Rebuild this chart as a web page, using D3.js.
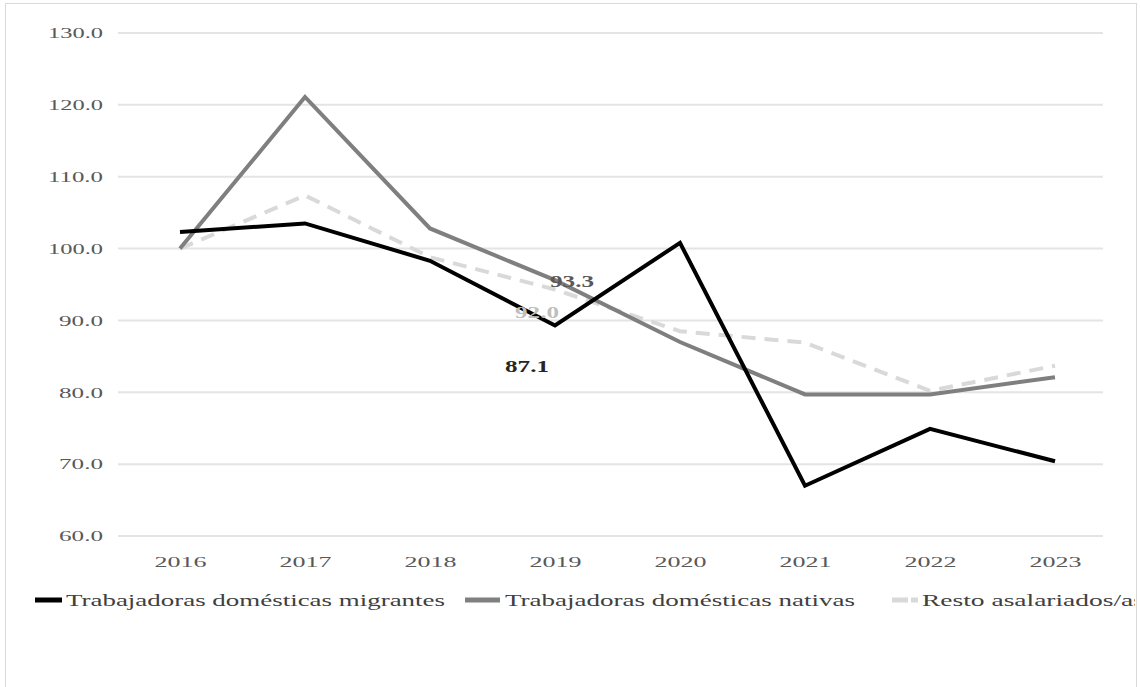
<!DOCTYPE html>
<html><head><meta charset="utf-8">
<script src="https://cdn.jsdelivr.net/npm/d3@7"></script>
<style>body{margin:0;background:#fff}svg{display:block}</style>
</head><body><svg id="c" width="1140" height="687"></svg>
<script>
const years = ["2016","2017","2018","2019","2020","2021","2022","2023"];
const migrantes = [102.3,103.5,98.3,89.3,100.8,67.0,74.9,70.4];
const nativas = [100,121.1,102.8,95.6,87.0,79.7,79.7,82.1];
const resto = [100,107.4,98.8,94.3,88.5,86.9,80.2,83.7];
const yTicks = [60,70,80,90,100,110,120,130];
const seriesNames = ["Trabajadoras domésticas migrantes","Trabajadoras domésticas nativas","Resto asalariados/as"];
const labelTexts = ["87.1","93.3","92.0"];

const svg = d3.select("#c");
const font = "'Liberation Serif','DejaVu Serif',serif";
svg.append("rect").attr("x",5.5).attr("y",3.5).attr("width",1131).attr("height",690)
  .attr("fill","#fff").attr("stroke","#d9d9d9");

const x = d3.scalePoint().domain(years).range([180,1055]);
const y = d3.scaleLinear().domain([60,130]).range([536,33]);
const gx0 = 118, gx1 = 1103;

// gridlines
svg.append("g").selectAll("line").data(yTicks).join("line")
  .attr("x1",gx0).attr("x2",gx1).attr("y1",d=>y(d)).attr("y2",d=>y(d))
  .attr("stroke","#e4e4e4").attr("stroke-width",2);

// y axis labels
const yAxis = d3.axisLeft(y).tickValues(yTicks).tickFormat(d3.format(".1f")).tickSize(0).tickPadding(0);
const ya = svg.append("g").attr("transform","translate(103,0)").call(yAxis);
ya.select(".domain").remove();
ya.selectAll("text").attr("font-family",font).attr("font-size",15).attr("fill","#595959")
  .attr("textLength",function(){return this.textContent.length*11;}).attr("lengthAdjust","spacingAndGlyphs");

// x axis labels
const xAxis = d3.axisBottom(x).tickSize(0).tickPadding(0);
const xa = svg.append("g").attr("transform","translate(0,556)").call(xAxis);
xa.select(".domain").remove();
xa.selectAll("text").attr("font-family",font).attr("font-size",15).attr("fill","#595959")
  .attr("textLength",52).attr("lengthAdjust","spacingAndGlyphs");

const styles = [
  {data:migrantes,color:"#000000",dash:null},
  {data:nativas,color:"#7f7f7f",dash:null},
  {data:resto,color:"#d9d9d9",dash:"14,9"}
];
const line = d3.line().x((d,i)=>x(years[i])).y(d=>y(d));
[2,1,0].forEach(k=>{
  const s = styles[k];
  svg.append("path").datum(s.data).attr("d",line).attr("fill","none")
    .attr("stroke",s.color).attr("stroke-width",4).attr("stroke-linejoin","miter")
    .attr("stroke-dasharray",s.dash);
});

// data labels at 2019 (offset as in the original)
const lblStyle = [
  {fill:"#262626",dx:-28,dy:47},
  {fill:"#595959",dx:17,dy:7},
  {fill:"#bfbfbf",dx:-18,dy:28}
];
const xi = x("2019");
[0,1,2].forEach(k=>{
  const v = styles[k].data[3];
  svg.append("text").attr("x",xi+lblStyle[k].dx).attr("y",y(v)+lblStyle[k].dy)
    .attr("text-anchor","middle").attr("font-family",font).attr("font-size",16)
    .attr("font-weight","bold").attr("fill",lblStyle[k].fill)
    .attr("textLength",44).attr("lengthAdjust","spacingAndGlyphs").text(labelTexts[k]);
});

// legend
svg.append("clipPath").attr("id","clip").append("rect").attr("x",0).attr("y",0).attr("width",1135).attr("height",687);
const lg = svg.append("g").attr("clip-path","url(#clip)");
const legendPos = [{sx:35,sw:27,tx:66,tw:379},{sx:465,sw:35,tx:505,tw:350},{sx:892,sw:26,tx:922,tw:222}];
[0,1,2].forEach(k=>{
  const p = legendPos[k], s = styles[k];
  lg.append("line").attr("x1",p.sx).attr("x2",p.sx+p.sw).attr("y1",600).attr("y2",600)
    .attr("stroke",s.color).attr("stroke-width",5).attr("stroke-dasharray",s.dash?"16,3":null);
  lg.append("text").attr("x",p.tx).attr("y",606).attr("font-family",font).attr("font-size",17)
    .attr("fill","#404040").attr("textLength",p.tw).attr("lengthAdjust","spacingAndGlyphs")
    .text(seriesNames[k]);
});
</script></body></html>
